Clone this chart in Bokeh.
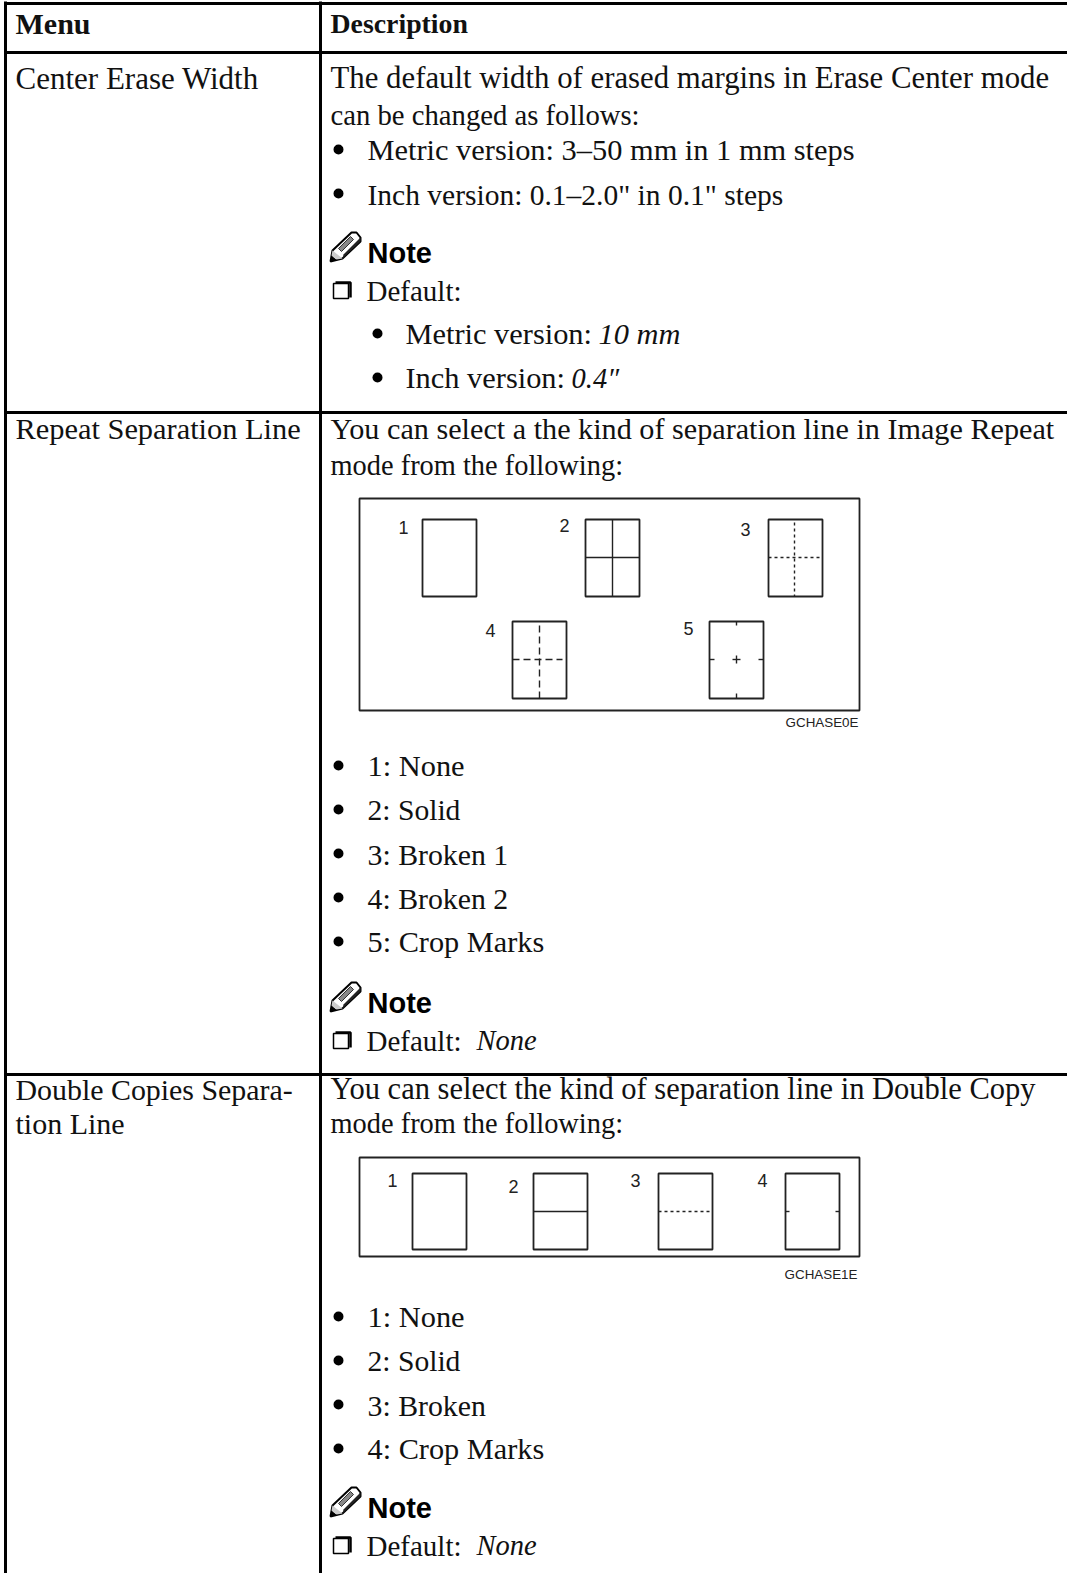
from bokeh.plotting import figure
from bokeh.embed import file_html
from bokeh.resources import INLINE
from bokeh.models import ColumnDataSource
from bokeh.core.properties import value

# ---------- content ----------
header_menu = "Menu"
header_desc = "Description"
menu_lines = ["Center Erase Width", "Repeat Separation Line", "Double Copies Separa-", "tion Line"]
plain_lines = [
    "The default width of erased margins in Erase Center mode",
    "can be changed as follows:",
    "You can select a the kind of separation line in Image Repeat",
    "mode from the following:",
    "You can select the kind of separation line in Double Copy",
    "mode from the following:",
]
bullets_main = [
    "Metric version: 3\u201350 mm in 1 mm steps",
    "Inch version: 0.1\u20132.0\" in 0.1\" steps",
    "1: None", "2: Solid", "3: Broken 1", "4: Broken 2", "5: Crop Marks",
    "1: None", "2: Solid", "3: Broken", "4: Crop Marks",
]
bullets_sub = ["Metric version: ", "Inch version: "]
bullets_sub_it = ["10 mm", "0.4\u2033"]
note_label = "Note"
default_label = "Default:"
default_values = ["None", "None"]
fig1_labels = ["1", "2", "3", "4", "5"]
fig2_labels = ["1", "2", "3", "4"]
fig_codes = ["GCHASE0E", "GCHASE1E"]

# ---------- layout (page pixels) ----------
W, H = 1067, 1573
SERIF = value("Liberation Serif")
SANS = value("Liberation Sans")
FS = 30.4
INK = "#111111"

menu_x, menu_y = 15, [85, 436, 1096, 1130]
menu_fs = [31.0, 30.4, 29.9, 30.0]
plain_x, plain_y = 330, [85, 121, 436, 472, 1096, 1130]
plain_fs = [30.8, 28.7, 30.2, 28.4, 30.5, 28.4]
bullets_main_y = [157, 201, 773, 817, 861, 905, 949, 1324, 1368, 1412, 1456]
bullets_main_fs = [30.4, 29.5, 30.4, 29.6, 29.8, 29.8, 30.3, 30.4, 29.6, 29.8, 30.3]
bullets_sub_y = [341, 385]
note_y = [259, 1009, 1514]
default_y = [297, 1047, 1552]

p = figure(width=W, height=H, x_range=(0, W), y_range=(H, 0),
           toolbar_location=None, output_backend="svg", min_border=0)
p.xaxis.visible = False
p.yaxis.visible = False
p.grid.visible = False
p.outline_line_color = None


def put(strings, xs, ys, font=SERIF, size=FS, style="normal", align="left", color=INK):
    sizes = list(size) if isinstance(size, list) else [size] * len(strings)
    src = ColumnDataSource(dict(x=list(xs), y=[v - 0.237 * s for v, s in zip(ys, sizes)],
                                t=list(strings), fs=[f"{s}px" for s in sizes]))
    p.text("x", "y", "t", source=src, text_font=font, text_font_size="fs",
           text_font_style=style, text_align=align, text_baseline="alphabetic",
           text_color=color)


# table rules
p.segment([4, 5, 320, 4, 4, 4], [3, 1, 1, 52, 412, 1074],
          [W, 5, 320, W, W, W], [3, H, H, 52, 412, 1074],
          line_color="#000000", line_width=3)

# texts
put([header_menu, header_desc], [15, 330], [30, 30], size=[30, 27.8], style="bold")
put(menu_lines, [menu_x] * 4, menu_y, size=menu_fs)
put(plain_lines, [plain_x] * 6, plain_y, size=plain_fs)
put(bullets_main, [367] * len(bullets_main), bullets_main_y, size=bullets_main_fs)
put(bullets_sub, [405] * 2, bullets_sub_y)
put(bullets_sub_it, [598, 571], bullets_sub_y, style="italic", size=[30.4, 28.5])
p.scatter([338] * len(bullets_main_y), [y - 8 for y in bullets_main_y], size=10,
          color="#000000", line_color=None)
p.scatter([377] * 2, [y - 8 for y in bullets_sub_y], size=10, color="#000000", line_color=None)
put([note_label] * 3, [367] * 3, note_y, font=SANS, size=29, style="bold", color="#000000")
put([default_label] * 3, [366] * 3, default_y, size=29)
put(default_values, [476, 476], default_y[1:], style="italic", size=28.5)


# note pencil
def pencil(x0, y0):
    def P(pts):
        return [x0 + a for a, _ in pts], [y0 + b for _, b in pts]
    xs, ys = P([(0, 0), (2, -11), (21, -29), (26, -29), (30, -24), (30, -20), (12, -3)])
    p.patch(xs, ys, fill_color="#ffffff", line_color="#000000", line_width=2)
    xs, ys = P([(8, -13), (20, -25), (23, -22), (11, -10)])
    p.patch(xs, ys, fill_color="#888888", line_color="#333333", line_width=1)
    xs, ys = P([(12, -3), (30, -20), (30, -24), (13, -7)])
    p.patch(xs, ys, fill_color="#222222", line_color=None)
    xs, ys = P([(0, 0), (1, -6), (6, -2)])
    p.patch(xs, ys, fill_color="#000000", line_color=None)
    xs, ys = P([(2, -11), (12, -3), (6, -2), (1, -6)])
    p.patch(xs, ys, fill_color="#cccccc", line_color=None)


for y in note_y:
    pencil(330, y + 2)


# checkbox
def checkbox(y):
    p.quad(left=333, right=348, top=y - 14, bottom=y + 1, fill_color="#ffffff",
           line_color="#000000", line_width=1.5)
    p.line([335, 350, 350], [y - 15, y - 15, y], line_color="#000000", line_width=2.5)


for y in default_y:
    checkbox(y)


# diagrams
def frame(l, t, r, b, w=1.8):
    p.quad(left=l, right=r, top=t, bottom=b, fill_color=None, line_color="#222222", line_width=w)


def ln(x0, y0, x1, y1, dash="solid", w=1.4):
    p.line([x0, x1], [y0, y1], line_color="#222222", line_width=w, line_dash=dash)


frame(359, 498, 859, 710)
RW, RH = 54, 77
tops = {"r1": 519, "r2": 621}
lefts1 = [422, 585, 768]
lefts2 = [512, 709]
for l in lefts1:
    frame(l, tops["r1"], l + RW, tops["r1"] + RH)
for l in lefts2:
    frame(l, tops["r2"], l + RW, tops["r2"] + RH)
# 2: solid
l, t = lefts1[1], tops["r1"]
ln(l + RW / 2, t, l + RW / 2, t + RH)
ln(l, t + 38, l + RW, t + 38)
# 3: broken 1
l = lefts1[2]
ln(l + 26, t + 3, l + 26, t + RH, "3 3")
ln(l, t + 38, l + RW - 2, t + 38, "3 3")
# 4: broken 2
l, t = lefts2[0], tops["r2"]
ln(l + RW / 2, t + 4, l + RW / 2, t + RH, "7 4")
ln(l, t + 38, l + RW - 4, t + 38, "7 4")
# 5: crop
l = lefts2[1]
for a in [(RW / 2, 0, RW / 2, 4), (RW / 2, RH - 5, RW / 2, RH), (0, 38, 5, 38), (RW - 5, 38, RW, 38),
          (RW / 2 - 4, 38, RW / 2 + 4, 38), (RW / 2, 34, RW / 2, 42)]:
    ln(l + a[0], t + a[1], l + a[2], t + a[3])

put(fig1_labels, [403, 564, 745, 490, 688], [531, 529, 533, 634, 632], font=SANS, size=18, align="center", color="#222222")
put(fig_codes[:1], [858], [725], font=SANS, size=13.4, align="right", color="#222222")

frame(359, 1157, 859, 1256)
t2 = 1173
lefts3 = [412, 533, 658, 785]
for l in lefts3:
    frame(l, t2, l + RW, t2 + 76)
ln(lefts3[1], t2 + 38, lefts3[1] + RW, t2 + 38)
ln(lefts3[2], t2 + 38, lefts3[2] + RW - 2, t2 + 38, "3 3")
ln(lefts3[3], t2 + 38, lefts3[3] + 4, t2 + 38)
ln(lefts3[3] + RW - 4, t2 + 38, lefts3[3] + RW, t2 + 38)
put(fig2_labels, [392, 513, 635, 762], [1184, 1190, 1184, 1184], font=SANS, size=18, align="center", color="#222222")
put(fig_codes[1:], [857], [1277], font=SANS, size=13.4, align="right", color="#222222")

open("out.html", "w").write(file_html(p, INLINE))
